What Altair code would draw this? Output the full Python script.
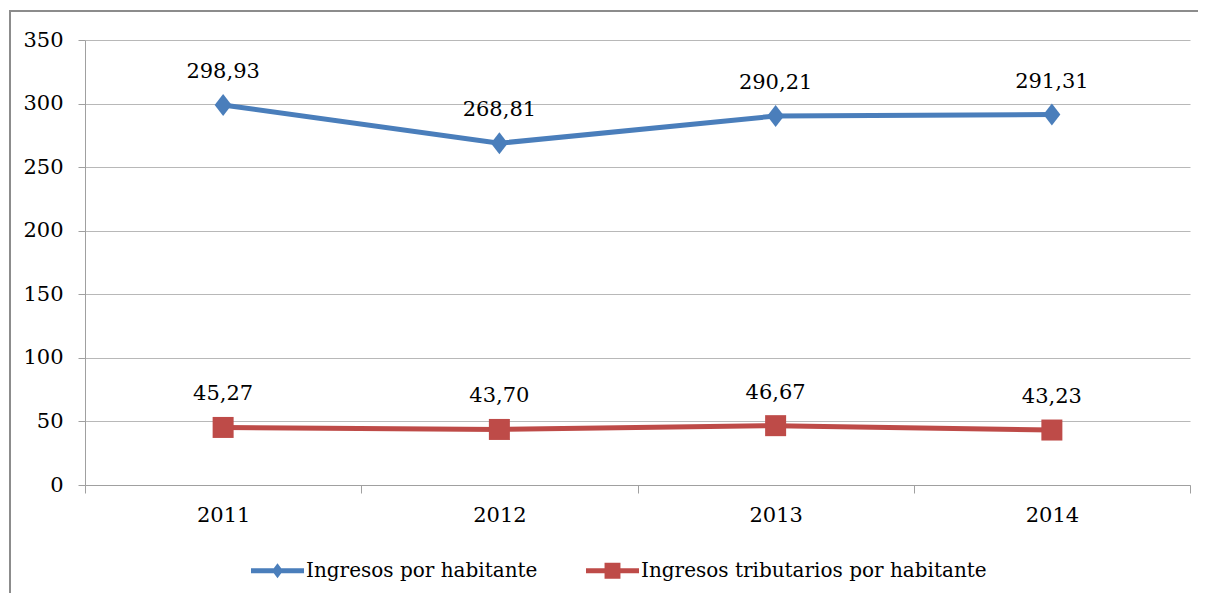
import altair as alt
import pandas as pd

years = ["2011", "2012", "2013", "2014"]
series = ["Ingresos por habitante", "Ingresos tributarios por habitante"]
ingresos = [298.93, 268.81, 290.21, 291.31]
tributarios = [45.27, 43.70, 46.67, 43.23]
y_ticks = [0, 50, 100, 150, 200, 250, 300, 350]
colors = ["#4a7ebb", "#be4b48"]

rows = []
for i, yr in enumerate(years):
    rows.append({"year": yr, "serie": series[0], "value": ingresos[i]})
    rows.append({"year": yr, "serie": series[1], "value": tributarios[i]})
df = pd.DataFrame(rows)

FONT = "DejaVu Serif"
FS = 21
LFS = 20
AXIS_GRAY = "#a0a0a0"

diamond_pt = "M0,-1L0.77,0L0,1L-0.77,0Z"
square_pt = "M-1,-1H1V1H-1Z"
leg_diamond = "M-1,-0.094H1V0.094H-1Z M0,-0.28L0.21,0L0,0.28L-0.21,0Z"
leg_square = "M-1,-0.094H1V0.094H-1Z M-0.3,-0.3H0.3V0.3H-0.3Z"

color_scale = alt.Scale(domain=series, range=colors)
legend = alt.Legend(
    title=None, orient="none", legendX=166, legendY=504, direction="horizontal",
    symbolSize=2809, labelFont=FONT, labelFontSize=LFS, labelColor="black",
    labelOffset=2, columnPadding=48, labelLimit=0, padding=0,
    symbolType=alt.ExprRef(expr=f"datum.value === '{series[0]}' ? '{leg_diamond}' : '{leg_square}'"),
    symbolFillColor=alt.ExprRef(expr="scale('color', datum.value)"),
    symbolStrokeWidth=0,
)

x = alt.X("year:N", title=None,
          scale=alt.Scale(type="band", paddingInner=0, paddingOuter=0),
          axis=alt.Axis(tickBand="extent", labelAngle=0, labelFont=FONT, labelFontSize=FS,
                        labelColor="black", tickSize=8, labelPadding=11,
                        domainColor=AXIS_GRAY, tickColor=AXIS_GRAY, grid=False))
y = alt.Y("value:Q", title=None, scale=alt.Scale(domain=[0, 350], nice=False),
          axis=alt.Axis(values=y_ticks, labelFont=FONT, labelFontSize=FS, labelColor="black",
                        tickSize=7, labelPadding=15, domainColor=AXIS_GRAY, tickColor=AXIS_GRAY,
                        gridColor="#b8b8b8", gridWidth=1, labelBaseline="middle"))

base = alt.Chart(df)

line = base.mark_line(strokeWidth=5).encode(
    x=x, y=y, color=alt.Color("serie:N", scale=color_scale, legend=legend), detail="serie:N")

pts_blue = base.transform_filter(alt.datum.serie == series[0]).mark_point(
    filled=True, opacity=1, size=484, shape=diamond_pt, color=colors[0]).encode(x=x, y=y)
pts_red = base.transform_filter(alt.datum.serie == series[1]).mark_point(
    filled=True, opacity=1, size=441, shape=square_pt, color=colors[1]).encode(x=x, y=y)

labels = base.transform_calculate(
    label="replace(format(datum.value, '.2f'), '.', ',')"
).mark_text(dy=-27, baseline="alphabetic", font=FONT, fontSize=FS, color="black").encode(
    x=x, y=y, text="label:N")

frame_data = alt.Chart(pd.DataFrame({"a": [0]}))
border_top = frame_data.mark_rule(stroke="#8c8c8c", strokeWidth=2, clip=False).encode(
    x=alt.value(-76), x2=alt.value(1300), y=alt.value(-29))
border_left = frame_data.mark_rule(stroke="#8c8c8c", strokeWidth=2, clip=False).encode(
    x=alt.value(-75), y=alt.value(-30), y2=alt.value(700))

chart = alt.layer(border_top, border_left, line, pts_blue, pts_red, labels).properties(
    width=1105, height=445,
    autosize=alt.AutoSizeParams(type="none"),
    padding={"left": 77, "top": 32, "right": 8, "bottom": 108},
).configure(font=FONT).configure_view(strokeWidth=0)

chart.save("out.html", embed_options={"renderer": "svg", "actions": False})
